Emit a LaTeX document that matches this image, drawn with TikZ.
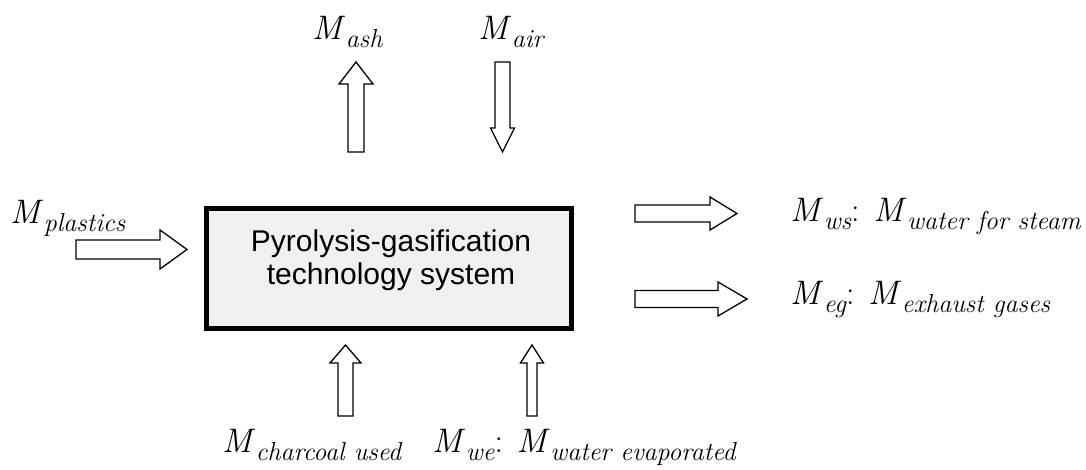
\documentclass[tikz,border=0pt]{standalone}
\usepackage{fontspec}
\newfontfamily\arialfont{Liberation Sans}
\definecolor{sysgray}{HTML}{F0F0F0}
\newcommand\Msub[1]{\textit{M}\kern0.5pt\raisebox{-8pt}{\fontsize{26}{27}\selectfont\itshape #1}}
\tikzset{
  blk/.style={draw=black, fill=white, line width=1.3pt, line join=miter},
  lbl/.style={inner sep=0pt, anchor=base west, font=\fontsize{34}{40}\selectfont},
  sysbox/.style={draw=black, line width=5pt, fill=sysgray, minimum width=365pt, minimum height=120pt, inner sep=0pt},
  systext/.style={font=\arialfont\fontsize{30}{33}\selectfont, align=center, inner sep=0pt}
}
% #1 tail coordinate, #2 direction angle, #3 length, #4 body half width, #5 head half width, #6 head length
\newcommand\blockarrow[6]{%
  \draw[blk, shift={(#1)}, rotate=#2] (0,-#4) -- ({#3-#6},-#4) -- ({#3-#6},-#5) -- (#3,0)
    -- ({#3-#6},#5) -- ({#3-#6},#4) -- (0,#4) -- cycle;}
\begin{document}
\begin{tikzpicture}[x=1pt,y=1pt]
\useasboundingbox (0,0) rectangle (1086,470);
% system box
\node[sysbox] (sys) at (389,201.5) {};
\node[systext] (systxt) at (391,210) {Pyrolysis-gasification\\technology system};
% arrow tails
\coordinate (plT) at (76,220.5);
\coordinate (ashT) at (356,318);
\coordinate (airT) at (502.5,408);
\coordinate (wsT) at (635,256.5);
\coordinate (egT) at (635,171);
\coordinate (chT) at (345.5,54);
\coordinate (weT) at (532,54);
\blockarrow{plT}{0}{111}{9.5}{19.5}{27}
\blockarrow{ashT}{90}{90}{8}{17}{22}
\blockarrow{airT}{-90}{90}{7.5}{12}{24}
\blockarrow{wsT}{0}{102}{8.5}{16.5}{27}
\blockarrow{egT}{0}{112}{8.5}{17}{29}
\blockarrow{chT}{90}{71}{7.5}{15.5}{18}
\blockarrow{weT}{90}{71}{5}{11.5}{18}
% labels
\node[lbl] (lpl) at (10,246) {\Msub{plastics}};
\node[lbl] (lash) at (312,430) {\Msub{ash}};
\node[lbl] (lair) at (478,430) {\Msub{air}};
\node[lbl] (lws) at (790,248) {\Msub{ws}: \Msub{water for steam}};
\node[lbl] (leg) at (790,165) {\Msub{eg}: \Msub{exhaust gases}};
\node[lbl] (lch) at (222,17) {\Msub{charcoal used}};
\node[lbl] (lwe) at (432,17) {\Msub{we}: \Msub{water evaporated}};
\end{tikzpicture}
\end{document}
